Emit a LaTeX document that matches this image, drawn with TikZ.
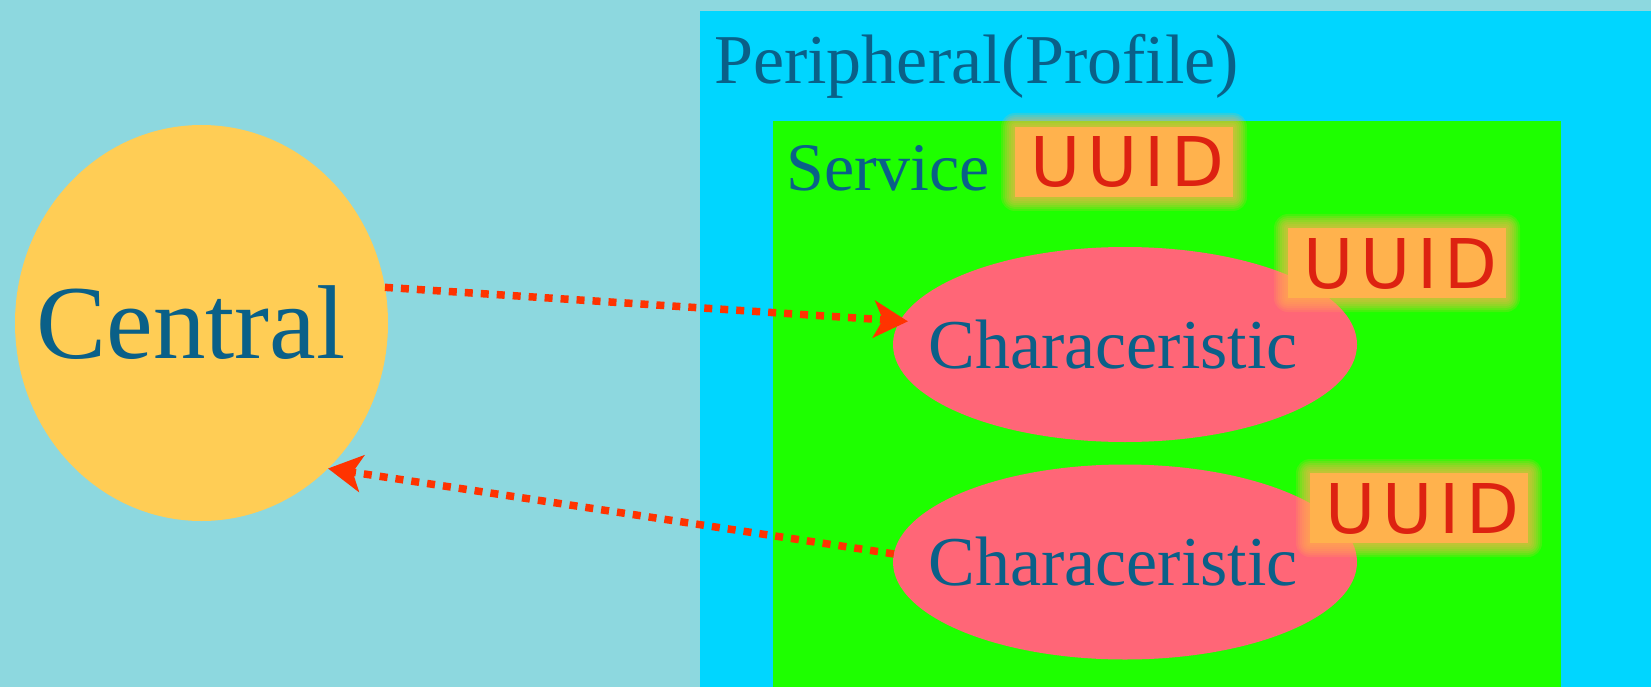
\documentclass[tikz,border=0pt]{standalone}
\usepackage{fontspec}
\setmainfont{Liberation Serif}
\newfontfamily\uuidfont[LetterSpace=10]{DejaVu Sans}
\usetikzlibrary{arrows.meta,shapes.geometric}
\definecolor{bgc}{HTML}{8DD8DF}
\definecolor{bluec}{HTML}{00D6FF}
\definecolor{greenc}{HTML}{1EFF00}
\definecolor{charc}{HTML}{FF6677}
\definecolor{centralc}{HTML}{FFCD55}
\definecolor{textc}{HTML}{0A6088}
\definecolor{arrowred}{HTML}{FF3300}
\definecolor{uuidred}{HTML}{DD2211}
\definecolor{orangec}{HTML}{FFB24D}
\newcommand\glowat[2]{%
  \foreach \k in {1,...,7}{%
    \fill[orangec,opacity=0.17,rounded corners=2*\k pt]
      ({#1-109-2*\k},{#2-35-2*\k}) rectangle ({#1+109+2*\k},{#2+35+2*\k});}}
\begin{document}
\begin{tikzpicture}[x=1pt,y=-1pt,
  shapefill/.style={inner sep=0pt, outer sep=0pt, draw=none},
  lbl/.style={text=textc, inner sep=0pt, font=\fontsize{70}{80}\selectfont},
  charnode/.style={ellipse, shapefill, fill=charc, minimum width=464pt, minimum height=195pt,
    text=textc, font=\fontsize{70}{80}\selectfont, text height=47pt, text depth=0pt},
  uuid/.style={rectangle, shapefill, fill=orangec, minimum width=218pt, minimum height=70pt,
    text=uuidred, font=\uuidfont\fontsize{68.6}{70}\selectfont, text height=50pt, text depth=0pt},
  link/.style={draw=arrowred, line width=7.5pt, dash pattern=on 8pt off 8pt,
    -{Stealth[length=34pt,width=37pt,inset=9pt]}}
]
\useasboundingbox (0,0) rectangle (1651,687);
\fill[bgc] (0,0) rectangle (1651,687);
% containers
\node[shapefill, fill=bluec, anchor=north west, minimum width=951pt, minimum height=676pt] (peripheral) at (700,11) {};
\node[shapefill, fill=greenc, anchor=north west, minimum width=788pt, minimum height=566pt] (service) at (773,121) {};
\node[lbl, anchor=base west] (peripherallabel) at (714,84) {Peripheral(Profile)};
\node[lbl, font=\fontsize{68}{78}\selectfont, anchor=base west] (servicelabel) at (786,190) {Service};
% central
\node[ellipse, shapefill, fill=centralc, minimum width=373pt, minimum height=396pt,
  text=textc, font=\fontsize{105}{115}\selectfont, text height=70pt, text depth=0pt]
  (central) at (201.5,323) {\makebox[0pt]{Central\hspace{21pt}}};
% characteristics
\node[charnode] (char1) at (1125,344.5) {\makebox[0pt]{Characeristic\hspace{24pt}}};
\node[charnode] (char2) at (1125,562) {\makebox[0pt]{Characeristic\hspace{24pt}}};
% UUID tags
\glowat{1124}{162}
\glowat{1397}{263}
\glowat{1419}{508}
\node[uuid] (uuidservice) at (1124,162) {\makebox[0pt]{\kern7pt UUID}};
\node[uuid] (uuidchar1) at (1397,263) {\makebox[0pt]{\kern7pt UUID}};
\node[uuid] (uuidchar2) at (1419,508) {\makebox[0pt]{\kern7pt UUID}};
% connectors
\draw[link, shorten >=-8pt] (central.11) -- (char1.174);
\draw[link] (char2.178) -- (central.-49);
\end{tikzpicture}
\end{document}
